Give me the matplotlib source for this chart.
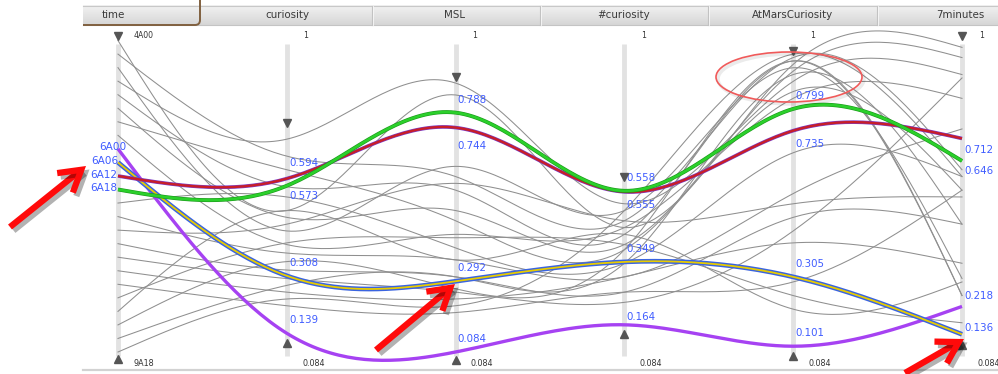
import numpy as np
import matplotlib
matplotlib.use('Agg')
import matplotlib.pyplot as plt
from matplotlib.patches import Ellipse, FancyBboxPatch, Rectangle
import matplotlib.patheffects as pe

# ---- data ----
dims = ['time', 'curiosity', 'MSL', '#curiosity', 'AtMarsCuriosity', '7minutes']
times = ['4A00', '4A06', '4A12', '4A18', '5A00', '5A06', '5A12', '5A18',
         '6A00', '6A06', '6A12', '6A18', '7A00', '7A06', '7A12', '7A18',
         '8A00', '8A06', '8A12', '8A18', '9A00', '9A06', '9A12', '9A18']
vmin, vmax = 0.084, 1.0

# background records: time, curiosity, MSL, #curiosity, AtMarsCuriosity, 7minutes
grey_time = ['4A00', '4A06', '4A12', '4A18', '5A00', '5A06', '5A12', '5A18',
             '7A00', '7A06', '7A12', '7A18', '8A00', '8A06', '8A12', '8A18',
             '9A00', '9A06', '9A12', '9A18']
grey_vals = [
    [0.50, 0.84, 0.45, 0.93, 0.98],
    [0.66, 0.60, 0.47, 0.95, 0.62],
    [0.44, 0.63, 0.50, 0.92, 0.30],
    [0.71, 0.875, 0.52, 0.88, 0.90],
    [0.57, 0.56, 0.43, 0.94, 0.25],
    [0.48, 0.50, 0.40, 0.91, 0.95],
    [0.62, 0.47, 0.385, 0.85, 0.56],
    [0.40, 0.43, 0.45, 0.83, 0.83],
    [0.54, 0.39, 0.345, 0.67, 0.60],
    [0.375, 0.355, 0.305, 0.55, 0.74],
    [0.46, 0.58, 0.47, 0.52, 0.54],
    [0.325, 0.305, 0.26, 0.48, 0.46],
    [0.30, 0.26, 0.23, 0.44, 0.89],
    [0.26, 0.24, 0.305, 0.405, 0.345],
    [0.22, 0.20, 0.26, 0.29, 0.56],
    [0.405, 0.42, 0.40, 0.25, 0.17],
    [0.50, 0.355, 0.43, 0.21, 0.29],
    [0.35, 0.27, 0.385, 0.94, 0.25],
    [0.28, 0.305, 0.345, 0.90, 0.46],
    [0.24, 0.22, 0.50, 0.96, 0.60],
]

# highlighted records
hl_time = ['6A00', '6A06', '6A12', '6A18']
hl_vals = [
    [0.139, 0.084, 0.164, 0.101, 0.218],   # purple
    [0.308, 0.292, 0.349, 0.305, 0.136],   # yellow / blue
    [0.594, 0.744, 0.555, 0.735, 0.712],   # red
    [0.573, 0.788, 0.558, 0.799, 0.646],   # green
]
# label side: -1 above the line, +1 below
hl_side = [
    [-1, -1, -0.6, -1, -0.8],
    [-1, -1, -1, -1, -0.5],
    [-1.2, 1.4, 1, 1, 0.9],
    [0.8, -1, -1, -1, 0.8],
]
# brush triangles (down marker, up marker) per axis
brush_top = [1.013, 0.757, 0.893, 0.599, 0.969, 1.013]
brush_bot = [0.063, 0.110, 0.060, 0.137, 0.072, 0.105]


def time_value(t):
    i = times.index(t)
    return vmax - i * (vmax - vmin) / (len(times) - 1)


def spline(y, n=40):
    # natural cubic spline through points at x = 0..k-1
    k = len(y)
    A = np.zeros((k, k))
    b = np.zeros(k)
    A[0, 0] = A[-1, -1] = 1
    for i in range(1, k - 1):
        A[i, i - 1] = 1
        A[i, i] = 4
        A[i, i + 1] = 1
        b[i] = 6 * (y[i + 1] - 2 * y[i] + y[i - 1])
    M = np.linalg.solve(A, b)
    xs, ys = [], []
    for i in range(k - 1):
        t = np.linspace(0, 1, n)
        yy = (1 - t) * y[i] + t * y[i + 1] + ((1 - t) ** 3 - (1 - t)) * M[i] / 6 + (t ** 3 - t) * M[i + 1] / 6
        xs.append(i + t)
        ys.append(yy)
    return np.concatenate(xs), np.concatenate(ys)


W, H = 998, 374
fig = plt.figure(figsize=(W / 100, H / 100), dpi=100)
fig.patch.set_facecolor('white')

# main axes: axis i at pixel 118 + 168.8*i, value v at pixel 352 - (v-0.084)*340 from top
ax = fig.add_axes([0, 0, 1, 1])
step = 168.8
ax.set_xlim(-118 / step, (W - 118) / step)
ax.set_ylim(vmin - 22 / 340, vmin + 352 / 340)
ax.axis('off')

# vertical axes
for i in range(len(dims)):
    ax.plot([i, i], [vmax - 0.01, vmin - 0.012], color='#e2e2e2', lw=3.5, zorder=1, solid_capstyle='butt')

# grey lines
for t, vals in zip(grey_time, grey_vals):
    xs, ys = spline([time_value(t)] + vals)
    ax.plot(xs, ys, color='#8f8f8f', lw=0.75, zorder=2)

# highlighted lines
styles = [
    [dict(color='#a642f2', lw=2.4)],
    [dict(color='#3a64e0', lw=3.4), dict(color='#e8cc00', lw=1.3)],
    [dict(color='#7a3cc8', lw=2.6), dict(color='#c81e28', lw=1.7)],
    [dict(color='#1c9a1c', lw=2.8), dict(color='#2bd02b', lw=1.9)],
]
for t, vals, st in zip(hl_time, hl_vals, styles):
    xs, ys = spline([time_value(t)] + vals)
    for s in st:
        ax.plot(xs, ys, zorder=5, solid_capstyle='butt', **s)

blue = '#3f5cff'
# value labels
for vals, sides in zip(hl_vals, hl_side):
    for j, (v, sd) in enumerate(zip(vals, sides)):
        dy = -sd * 13 * 0.72
        ax.annotate('%.3f' % v, (j + 1, v), xytext=(1.5, dy), textcoords='offset points',
                    ha='left', va='center', fontsize=7.4, color=blue, zorder=8)

# time labels
time_dx = [8, 0, -1, -1]
for t, dx in zip(hl_time, time_dx):
    ax.annotate(t, (0, time_value(t)), xytext=(dx * 0.72, 1), textcoords='offset points',
                ha='right', va='center', fontsize=7.6, color=blue, zorder=8)

# brush markers and end labels
top_lab = ['4A00'] + ['1'] * 5
bot_lab = ['9A18'] + ['0.084'] * 5
for i in range(len(dims)):
    ax.plot(i, brush_top[i], marker='v', color='#555555', ms=5.5, zorder=9, ls='none')
    ax.plot(i, brush_bot[i], marker='^', color='#555555', ms=5.5, zorder=9, ls='none')
    ax.annotate(top_lab[i], (i, vmin + 316 / 340), xytext=(11 if i == 0 else 12, 0),
                textcoords='offset points', ha='left', va='center', fontsize=5.6, color='#333333')
    ax.annotate(bot_lab[i], (i, vmin - 11 / 340), xytext=(11, 0),
                textcoords='offset points', ha='left', va='center', fontsize=5.8, color='#333333')

# ---- overlay in pixel coordinates: header, frame, annotations ----
ov = fig.add_axes([0, 0, 1, 1], facecolor='none')
ov.set_xlim(0, W)
ov.set_ylim(H, 0)
ov.axis('off')

g = np.linspace(0, 1, 40)
c_top = np.array([0.95, 0.95, 0.95])
c_bot = np.array([0.84, 0.84, 0.84])
grad = (c_top[None, :] * (1 - g[:, None]) + c_bot[None, :] * g[:, None])[:, None, :]
ov.imshow(grad, extent=[83, W, 25, 5], aspect='auto', zorder=1, interpolation='bilinear')
ov.plot([83, W], [5.5, 5.5], color='#c8c8c8', lw=0.8, zorder=2)
ov.plot([83, W], [25, 25], color='#c4c4c4', lw=0.8, zorder=2)
for sx in [372, 540, 708, 877]:
    ov.plot([sx, sx], [6, 24.5], color='#c2c2c2', lw=0.8, zorder=2)
    ov.plot([sx + 1, sx + 1], [6, 24.5], color='#f8f8f8', lw=0.6, zorder=2)

tab = FancyBboxPatch((60, -5), 140, 30, boxstyle='round,pad=0,rounding_size=5',
                     facecolor='none', edgecolor='#80603f', lw=1.4, zorder=3)
ov.add_patch(tab)
tab.set_clip_path(Rectangle((83, 0), W - 83, 30, transform=ov.transData))

hdr_x = [113, 287, 455, 624, 793, 960]
for name, hx in zip(dims, hdr_x):
    ov.text(hx, 15, name, ha='center', va='center', fontsize=7.4, color='#3a3a3a', zorder=4)

ov.plot([83, W], [369.5, 369.5], color='#d2d2d2', lw=1.6, zorder=2)

# red ellipse with a faint shadow
ov.add_patch(Ellipse((791, 79), 146, 50, facecolor='none', edgecolor='black', alpha=0.08, lw=2.5, zorder=5))
ov.add_patch(Ellipse((789, 77), 146, 50, facecolor='none', edgecolor='#f05a5a', lw=1.2, zorder=6))

arrows = [((10, 227), (86, 166)), ((376, 350), (455, 284)), ((905, 373), (964, 339))]
for tail, head in arrows:
    ov.annotate('', xy=head, xytext=tail, zorder=10,
                arrowprops=dict(arrowstyle='->,head_length=1.5,head_width=0.9', color='#ff0a0a',
                                lw=4.5, shrinkA=0, shrinkB=0, capstyle='butt', joinstyle='miter',
                                path_effects=[pe.SimpleLineShadow(offset=(2.5, -2.5), alpha=0.3), pe.Normal()]))

fig.savefig('out.png', dpi=100)
